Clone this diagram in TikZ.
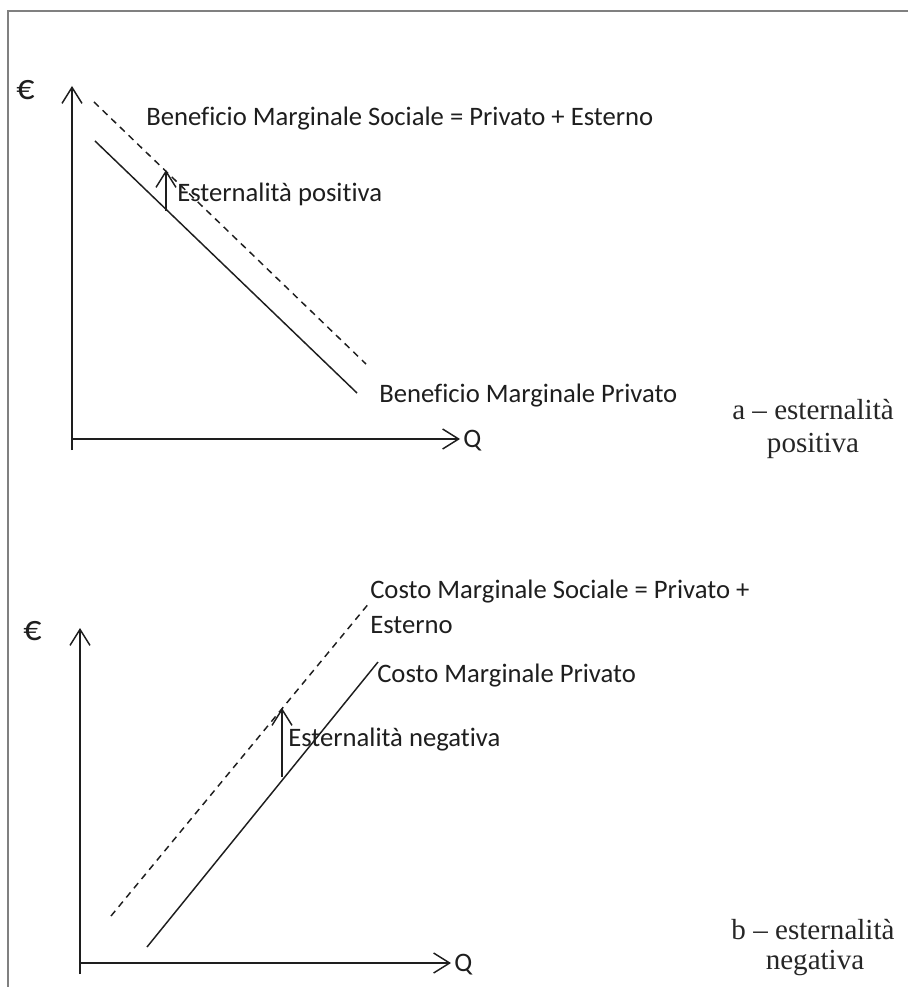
\documentclass[tikz,border=0pt]{standalone}
\usepackage{fontspec}
\newfontfamily\graphfont{Carlito}[Ligatures={NoCommon}]
\newfontfamily\captionfont{Liberation Serif}
\usetikzlibrary{arrows.meta}
\definecolor{ink}{HTML}{1E1E1E}
\definecolor{framegray}{HTML}{808080}
\definecolor{captiongray}{HTML}{262626}
\tikzset{
  axistip/.tip={Straight Barb[length=12pt,width=15pt,line width=1.1pt]},
  axisline/.style={draw=ink,line width=1.4pt,-axistip},
  curve/.style={draw=ink,line width=1.1pt},
  curvedash/.style={curve,dash pattern=on 5pt off 4pt},
  gaparrow/.style={draw=ink,line width=1.1pt,-axistip},
  lbl/.style={font=\graphfont\fontsize{20}{24}\selectfont,text=ink,inner sep=0pt,anchor=base west},
  eurolbl/.style={lbl,font=\graphfont\fontsize{27}{30}\selectfont},
  captionline/.style={font=\captionfont\fontsize{21.8}{26}\selectfont,text=captiongray,inner sep=0pt,anchor=base},
}
\begin{document}
\begin{tikzpicture}[x=0.75pt,y=-0.75pt]
\useasboundingbox (0,0) rectangle (908,987);
% outer frame (top and left edges)
\draw[framegray,line width=1.2pt] (908,11) -- (8,11) -- (8,987);

% ---------- (a) positive externality ----------
\coordinate (ayBot) at (72,450);
\coordinate (ayTip) at (72,86);
\coordinate (axO) at (72,439);
\coordinate (axTip) at (460,439);
\draw[axisline] (ayBot) -- (ayTip);
\draw[axisline] (axO) -- (axTip);
\node[eurolbl] (euroA) at (16,100) {€};
\node[lbl] (qA) at (463,447) {Q};

\coordinate (smbA1) at (94,102);
\coordinate (smbA2) at (366,364);
\coordinate (pmbA1) at (95,141);
\coordinate (pmbA2) at (357,393);
\draw[curvedash] (smbA1) -- (smbA2);
\draw[curve] (pmbA1) -- (pmbA2);
\coordinate (gapA1) at (166,211);
\coordinate (gapA2) at (166,170);
\draw[gaparrow] (gapA1) -- (gapA2);

\node[lbl] (smbAlbl) at (146,126) {Beneficio Marginale Sociale = Privato + Esterno};
\node[lbl] (gapAlbl) at (177,202) {Esternalità positiva};
\node[lbl] (pmbAlbl) at (379,402) {Beneficio Marginale Privato};
\node[captionline] (capA1) at (813,419) {a – esternalità};
\node[captionline] (capA2) at (813,452) {positiva};

% ---------- (b) negative externality ----------
\coordinate (byBot) at (80,974);
\coordinate (byTip) at (80,628);
\coordinate (bxO) at (80,963);
\coordinate (bxTip) at (451,963);
\draw[axisline] (byBot) -- (byTip);
\draw[axisline] (bxO) -- (bxTip);
\node[eurolbl] (euroB) at (23,640) {€};
\node[lbl] (qB) at (454,971) {Q};

\coordinate (smcB1) at (111,916);
\coordinate (smcB2) at (370,602);
\coordinate (pmcB1) at (147,947);
\coordinate (pmcB2) at (378,662);
\draw[curvedash] (smcB1) -- (smcB2);
\draw[curve] (pmcB1) -- (pmcB2);
\coordinate (gapB1) at (282,777);
\coordinate (gapB2) at (282,708);
\draw[gaparrow] (gapB1) -- (gapB2);

\node[lbl] (smcBlbl1) at (370,598) {Costo Marginale Sociale = Privato +};
\node[lbl] (smcBlbl2) at (370,633) {Esterno};
\node[lbl] (pmcBlbl) at (377,682) {Costo Marginale Privato};
\node[lbl] (gapBlbl) at (288,746) {Esternalità negativa};
\node[captionline] (capB1) at (813,939) {b – esternalità};
\node[captionline] (capB2) at (815,969) {negativa};
\end{tikzpicture}
\end{document}
